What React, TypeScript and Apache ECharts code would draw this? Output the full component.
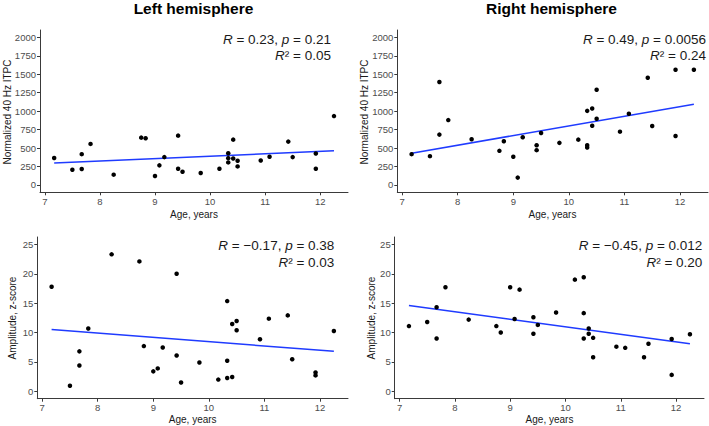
import React, { useEffect, useRef } from "react";
import * as echarts from "echarts";

const ages = [7.17, 7.5, 7.67, 7.67, 7.83, 8.25, 8.75, 8.83, 9.0, 9.08, 9.17, 9.42, 9.42, 9.5, 9.83, 10.17, 10.33, 10.33, 10.33, 10.42, 10.42, 10.5, 10.5, 10.92, 11.08, 11.42, 11.5, 11.92, 11.92, 12.25];

const itpcLeft = [365, 206, 417, 215, 556, 139, 641, 632, 121, 265, 377, 668, 220, 179, 161, 220, 430, 363, 305, 614, 359, 327, 251, 332, 381, 587, 377, 426, 220, 933];
const itpcRight = [417, 390, 1395, 682, 879, 619, 462, 592, 381, 99, 646, 538, 471, 704, 570, 614, 1004, 538, 507, 1036, 803, 1291, 897, 722, 964, 1453, 798, 1561, 664, 1561];
const ampLeft = [17.8, 0.96, 6.8, 4.4, 10.7, 23.3, 22.1, 7.7, 3.4, 3.9, 7.45, 20.0, 6.1, 1.5, 4.9, 2.0, 15.35, 5.2, 2.26, 11.46, 2.43, 11.96, 10.38, 8.86, 12.36, 12.92, 5.47, 3.22, 2.71, 10.27];
const ampRight = [11.1, 11.8, 14.3, 9.0, 17.7, 12.2, 11.1, 10.0, 17.7, 12.3, 17.3, 12.6, 9.8, 11.3, 13.4, 19.0, 19.4, 13.3, 9.0, 10.7, 9.8, 9.1, 5.8, 7.6, 7.4, 5.8, 8.1, 8.9, 2.8, 9.7];

const fitAges = [7.17, 12.25];
const fitItpcLeft = [296, 462];
const fitItpcRight = [430, 1094];
const fitAmpLeft = [10.5, 6.8];
const fitAmpRight = [14.6, 8.1];

const xTicks = [7, 8, 9, 10, 11, 12];
const itpcTicks = [0, 250, 500, 750, 1000, 1250, 1500, 1750, 2000];
const ampTicks = [0, 5, 10, 15, 20, 25];

const panelTitles = ["Left hemisphere", "Right hemisphere"];
const statLines = [
  ["{i|R} = 0.23, {i|p} = 0.21", "{i|R}² = 0.05"],
  ["{i|R} = 0.49, {i|p} = 0.0056", "{i|R}² = 0.24"],
  ["{i|R} = −0.17, {i|p} = 0.38", "{i|R}² = 0.03"],
  ["{i|R} = −0.45, {i|p} = 0.012", "{i|R}² = 0.20"],
];
const yTitles = ["Normalized 40 Hz ITPC", "Normalized 40 Hz ITPC", "Amplitude, z-score", "Amplitude, z-score"];
const xTitle = "Age, years";

const FONT = "Liberation Sans, Arial, sans-serif";
const BLUE = "#1f3bff";
const AXIS = "#3a3a3a";
const LABEL = "#4d4d4d";

export default function App() {
  const ref = useRef<HTMLDivElement>(null);
  useEffect(() => {
    if (!ref.current) return;
    const chart = echarts.init(ref.current, null, { renderer: "svg" });

    const grids = [
      { left: 40, top: 30, width: 308, height: 162.3 },
      { left: 397.3, top: 30, width: 310.7, height: 162.3 },
      { left: 37.3, top: 237, width: 310.7, height: 161.7 },
      { left: 394.7, top: 237, width: 309.3, height: 161.7 },
    ];
    const yRanges = [
      { min: -100, max: 2100, ticks: itpcTicks },
      { min: -100, max: 2100, ticks: itpcTicks },
      { min: -1.25, max: 26.25, ticks: ampTicks },
      { min: -1.25, max: 26.25, ticks: ampTicks },
    ];
    const values = [itpcLeft, itpcRight, ampLeft, ampRight];
    const fits = [fitItpcLeft, fitItpcRight, fitAmpLeft, fitAmpRight];

    const axisCommon = {
      axisLine: { show: true, onZero: false, lineStyle: { color: AXIS, width: 1 } },
      axisTick: { show: true, length: 3, lineStyle: { color: AXIS, width: 1 } },
      splitLine: { show: false },
    };
    const fmt = (v: number) => String(v);

    const xAxis = grids.map((_, i) => ({
      type: "value",
      gridIndex: i,
      min: 6.9125,
      max: 12.5042,
      ...axisCommon,
      axisTick: { ...axisCommon.axisTick, customValues: xTicks },
      axisLabel: { customValues: xTicks, formatter: fmt, color: LABEL, fontSize: 9.5, fontFamily: FONT, margin: 4 },
    }));
    const yAxis = grids.map((_, i) => ({
      type: "value",
      gridIndex: i,
      min: yRanges[i].min,
      max: yRanges[i].max,
      ...axisCommon,
      axisTick: { ...axisCommon.axisTick, customValues: yRanges[i].ticks },
      axisLabel: { customValues: yRanges[i].ticks, formatter: fmt, color: LABEL, fontSize: 9.5, fontFamily: FONT, margin: 4 },
    }));

    const series: any[] = [];
    values.forEach((vals, i) => {
      series.push({
        type: "line",
        xAxisIndex: i,
        yAxisIndex: i,
        data: fitAges.map((a, k) => [a, fits[i][k]]),
        showSymbol: false,
        lineStyle: { color: BLUE, width: 1.5 },
        z: 2,
      });
      series.push({
        type: "scatter",
        xAxisIndex: i,
        yAxisIndex: i,
        data: ages.map((a, k) => [a, vals[k]]),
        symbolSize: 4.5,
        itemStyle: { color: "#000", opacity: 1 },
        z: 3,
      });
    });

    const statPos = [
      { x: 331, y1: 39.5, y2: 55.5 },
      { x: 706, y1: 39.5, y2: 55.5 },
      { x: 334.3, y1: 245.5, y2: 262 },
      { x: 702.3, y1: 245.5, y2: 262 },
    ];
    const graphics: any[] = [];
    panelTitles.forEach((t, i) => {
      graphics.push({
        type: "text",
        x: i === 0 ? 193.5 : 551.5,
        y: 8,
        style: { text: t, align: "center", verticalAlign: "middle", fontFamily: FONT, fontSize: 15.5, fontWeight: "bold", fill: "#000" },
      });
    });
    statLines.forEach((lines, i) => {
      const p = statPos[i];
      [p.y1, p.y2].forEach((yy, k) => {
        graphics.push({
          type: "text",
          x: p.x,
          y: yy,
          style: {
            text: lines[k],
            align: "right",
            verticalAlign: "middle",
            fontFamily: FONT,
            fontSize: 13.5,
            fill: "#1a1a1a",
            rich: { i: { fontStyle: "italic", fontFamily: FONT, fontSize: 13.5, fill: "#1a1a1a" } },
          },
        });
      });
    });
    const yTitlePos = [
      { x: 7, y: 112 },
      { x: 364.5, y: 112 },
      { x: 12.5, y: 318 },
      { x: 371.5, y: 318 },
    ];
    yTitles.forEach((t, i) => {
      graphics.push({
        type: "text",
        x: yTitlePos[i].x,
        y: yTitlePos[i].y,
        rotation: Math.PI / 2,
        style: { text: t, align: "center", verticalAlign: "middle", fontFamily: FONT, fontSize: 10, fill: "#1a1a1a" },
      });
    });
    const xTitlePos = [
      { x: 194, y: 214.5 },
      { x: 552.5, y: 214.5 },
      { x: 192.7, y: 419.5 },
      { x: 549.5, y: 419.5 },
    ];
    xTitlePos.forEach((p) => {
      graphics.push({
        type: "text",
        x: p.x,
        y: p.y,
        style: { text: xTitle, align: "center", verticalAlign: "middle", fontFamily: FONT, fontSize: 10, fill: "#1a1a1a" },
      });
    });

    chart.setOption({
      animation: false,
      backgroundColor: "#fff",
      grid: grids,
      xAxis,
      yAxis,
      series,
      graphic: graphics,
    } as any);
    return () => chart.dispose();
  }, []);
  return <div ref={ref} style={{ position: "fixed", left: 0, top: 0, width: 709, height: 426 }} />;
}
